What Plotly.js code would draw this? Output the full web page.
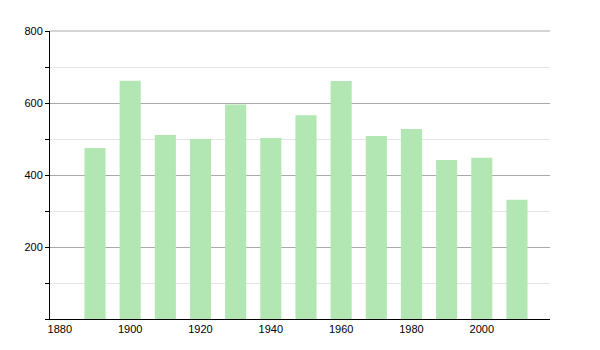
<!DOCTYPE html>
<html>
<head>
<meta charset="utf-8">
<script src="https://cdn.plot.ly/plotly-3.0.1.min.js"></script>
<style>html,body{margin:0;padding:0;background:#fff;}#chart{width:600px;height:350px;}</style>
</head>
<body>
<div id="chart"></div>
<script>
const years = [1890, 1900, 1910, 1920, 1930, 1940, 1950, 1960, 1970, 1980, 1990, 2000, 2010];
const population = [475, 662, 511, 500, 596, 503, 566, 661, 508, 528, 442, 448, 331];
const xTickVals = [1880, 1900, 1920, 1940, 1960, 1980, 2000];
const yTickVals = [200, 400, 600, 800];

const trace = {
  type: 'bar',
  x: years,
  y: population,
  width: 6,
  marker: {color: 'rgb(178,230,178)', line: {width: 0}},
  hoverinfo: 'x+y'
};

const layout = {
  width: 600,
  height: 350,
  margin: {l: 50, r: 50, t: 31, b: 31, pad: 0},
  paper_bgcolor: '#fff',
  plot_bgcolor: '#fff',
  showlegend: false,
  font: {family: 'Liberation Sans, Arial, sans-serif', size: 11, color: '#000'},
  xaxis: {
    range: [1877.2, 2019.4],
    tickvals: xTickVals,
    ticktext: xTickVals.map(String),
    ticks: '',
    showgrid: false,
    zeroline: false,
    showline: true,
    linecolor: '#000',
    linewidth: 1,
    tickfont: {size: 11, color: '#000'}
  },
  yaxis: {
    range: [0, 800],
    tickvals: yTickVals,
    ticktext: yTickVals.map(String),
    ticks: 'outside',
    ticklen: 4,
    tickcolor: '#000',
    showgrid: true,
    gridcolor: '#aaaaaa',
    gridwidth: 1,
    zeroline: false,
    showline: true,
    linecolor: '#000',
    linewidth: 1,
    tickfont: {size: 11, color: '#000'},
    minor: {
      dtick: 100,
      tick0: 0,
      showgrid: true,
      gridcolor: '#e4e4e4',
      gridwidth: 1,
      ticks: 'outside',
      ticklen: 4,
      tickcolor: '#000'
    }
  },
  shapes: [{
    type: 'line', xref: 'paper', x0: 0, x1: 1, yref: 'paper', y0: 1, y1: 1,
    line: {color: '#aaaaaa', width: 1}, layer: 'above'
  }]
};

Plotly.newPlot('chart', [trace], layout, {displayModeBar: false, staticPlot: true});
</script>
</body>
</html>
